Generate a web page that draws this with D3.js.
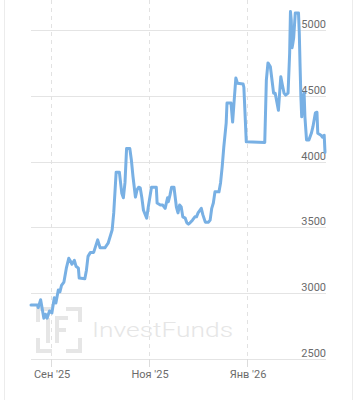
<!DOCTYPE html>
<html>
<head>
<meta charset="utf-8">
<script src="https://cdn.jsdelivr.net/npm/d3@7"></script>
<style>
  html, body { margin: 0; padding: 0; background: #fff; }
  svg { display: block; }
</style>
</head>
<body>
<svg id="chart" width="357" height="400"></svg>
<script>
// ---- data ----
const dates = [
  "2025-08-19T12:00","2025-08-23T12:00","2025-08-24T00:00","2025-08-25T12:00","2025-08-27T12:00",
  "2025-08-28T12:00","2025-08-29T12:00","2025-08-31T00:00","2025-09-01T12:00","2025-09-03T00:00",
  "2025-09-04T00:00","2025-09-05T12:00","2025-09-06T12:00","2025-09-07T12:00","2025-09-09T00:00",
  "2025-09-10T12:00","2025-09-12T00:00","2025-09-13T00:00","2025-09-14T00:00","2025-09-15T12:00",
  "2025-09-16T12:00","2025-09-18T00:00","2025-09-18T12:00","2025-09-22T00:00","2025-09-23T00:00",
  "2025-09-24T00:00","2025-09-25T12:00","2025-09-27T12:00","2025-09-30T00:00","2025-10-01T12:00",
  "2025-10-04T12:00","2025-10-06T12:00","2025-10-09T00:00","2025-10-10T00:00","2025-10-11T12:00",
  "2025-10-13T12:00","2025-10-15T00:00","2025-10-16T00:00","2025-10-17T00:00","2025-10-18T00:00",
  "2025-10-20T00:00","2025-10-21T00:00","2025-10-22T00:00","2025-10-23T12:00","2025-10-24T12:00",
  "2025-10-25T12:00","2025-10-26T12:00","2025-10-27T12:00","2025-10-28T12:00","2025-10-30T12:00",
  "2025-10-31T12:00","2025-11-02T12:00","2025-11-05T12:00","2025-11-06T00:00","2025-11-08T00:00",
  "2025-11-09T12:00","2025-11-11T00:00","2025-11-12T12:00","2025-11-13T00:00","2025-11-14T00:00",
  "2025-11-15T00:00","2025-11-16T12:00","2025-11-18T00:00","2025-11-19T00:00","2025-11-20T00:00",
  "2025-11-21T00:00","2025-11-22T00:00","2025-11-23T12:00","2025-11-24T12:00","2025-11-25T12:00",
  "2025-11-26T12:00","2025-11-28T00:00","2025-11-29T12:00","2025-11-30T12:00","2025-12-01T12:00",
  "2025-12-03T12:00","2025-12-04T12:00","2025-12-06T00:00","2025-12-08T00:00","2025-12-09T00:00",
  "2025-12-10T00:00","2025-12-11T00:00","2025-12-12T00:00","2025-12-14T12:00","2025-12-15T12:00",
  "2025-12-16T12:00","2025-12-17T12:00","2025-12-19T00:00","2025-12-19T12:00","2025-12-22T00:00",
  "2025-12-23T00:00","2025-12-24T00:00","2025-12-25T00:00","2025-12-26T00:00","2025-12-29T12:00",
  "2025-12-30T00:00","2025-12-31T12:00","2026-01-12T00:00","2026-01-13T00:00","2026-01-14T00:00",
  "2026-01-15T12:00","2026-01-16T12:00","2026-01-17T12:00","2026-01-18T12:00","2026-01-19T12:00",
  "2026-01-20T12:00","2026-01-21T12:00","2026-01-22T00:00","2026-01-23T00:00","2026-01-24T00:00",
  "2026-01-25T00:00","2026-01-26T12:00","2026-01-27T12:00","2026-01-28T00:00","2026-01-28T12:00",
  "2026-01-29T00:00","2026-01-29T12:00","2026-01-30T00:00","2026-01-31T00:00","2026-02-02T00:00",
  "2026-02-02T12:00","2026-02-03T00:00","2026-02-03T12:00","2026-02-04T00:00","2026-02-04T12:00",
  "2026-02-05T12:00","2026-02-06T00:00","2026-02-07T00:00","2026-02-08T12:00","2026-02-10T00:00",
  "2026-02-11T00:00","2026-02-12T12:00","2026-02-13T12:00","2026-02-14T00:00","2026-02-16T00:00",
  "2026-02-17T00:00","2026-02-18T00:00","2026-02-18T12:00"
];
const values = [
  2910,2910,2890,2950,2810,
  2840,2810,2865,2850,2965,
  2925,3025,3010,3060,3085,
  3190,3265,3245,3220,3250,
  3205,3190,3115,3110,3175,
  3280,3310,3310,3405,3345,
  3345,3380,3480,3610,3920,
  3920,3760,3725,3840,4100,
  4100,4010,3885,3730,3785,
  3805,3800,3725,3630,3570,
  3655,3805,3805,3685,3670,
  3670,3645,3725,3695,3745,
  3805,3805,3655,3610,3670,
  3655,3580,3570,3535,3525,
  3535,3555,3580,3580,3610,
  3645,3595,3540,3540,3555,
  3645,3685,3770,3770,3840,
  3960,4110,4295,4445,4445,
  4300,4470,4635,4595,4590,
  4565,4150,4145,4620,4750,
  4720,4620,4520,4520,4455,
  4390,4565,4645,4580,4520,
  4505,4520,4825,5140,5075,
  4865,4900,4940,5130,5130,
  4975,4720,4490,4340,4470,
  4520,4340,4165,4165,4215,
  4265,4370,4375,4215,4200,
  4185,4200,4070
];
const yTicks = [2500, 3000, 3500, 4000, 4500, 5000];
const xTickDates = ["2025-09-01", "2025-11-01", "2026-01-01"];
const xTickLabels = ["Сен '25", "Ноя '25", "Янв '26"];

// ---- chart ----
const svg = d3.select("#chart");
const parse = d3.isoParse;
const data = dates.map((d, i) => ({ date: parse(d), value: values[i] }));

const mLeft = 31, mRight = 325, mBottom = 359;
const x = d3.scaleTime()
  .domain(d3.extent(data, d => d.date))
  .range([mLeft, mRight]);
const y = d3.scaleLinear()
  .domain([2500, 5000])
  .range([mBottom, 30]);

// frame borders
svg.append("line").attr("x1", 4.5).attr("x2", 4.5).attr("y1", 0).attr("y2", 400)
  .attr("stroke", "#ececec").attr("stroke-width", 1);
svg.append("line").attr("x1", 352.5).attr("x2", 352.5).attr("y1", 0).attr("y2", 400)
  .attr("stroke", "#ececec").attr("stroke-width", 1);

// horizontal grid
const gridY = svg.append("g");
gridY.selectAll("line").data(yTicks).join("line")
  .attr("x1", mLeft).attr("x2", 326)
  .attr("y1", d => Math.round(y(d)) + 0.5).attr("y2", d => Math.round(y(d)) + 0.5)
  .attr("stroke", "#e4e4e4").attr("stroke-width", 1);

// vertical dashed grid + ticks
const xt = xTickDates.map(d => parse(d));
const gridX = svg.append("g");
gridX.selectAll("line.dash").data(xt).join("line").attr("class", "dash")
  .attr("x1", d => Math.round(x(d)) + 0.5).attr("x2", d => Math.round(x(d)) + 0.5)
  .attr("y1", 0).attr("y2", mBottom)
  .attr("stroke", "#e2e2e2").attr("stroke-dasharray", "4,4");
gridX.selectAll("line.tick").data(xt).join("line").attr("class", "tick")
  .attr("x1", d => Math.round(x(d)) + 0.5).attr("x2", d => Math.round(x(d)) + 0.5)
  .attr("y1", mBottom).attr("y2", mBottom + 8)
  .attr("stroke", "#dcdcdc");

// watermark
const wm = svg.append("g").attr("fill", "none").attr("stroke", "#e6e6e6").attr("stroke-width", 4);
wm.append("path").attr("d", "M38,322 V309 H52");
wm.append("path").attr("d", "M66,309 H80 V322");
wm.append("path").attr("d", "M38,338 V351 H52");
wm.append("path").attr("d", "M66,351 H80 V338");
wm.append("path").attr("d", "M48,318 V343");
wm.append("path").attr("d", "M68,318 H57 V343 M57,330 H66");
svg.append("text").attr("x", 92).attr("y", 337)
  .attr("font-family", "Roboto, sans-serif").attr("font-weight", 300)
  .attr("font-size", 20).attr("fill", "#e6e6e6")
  .attr("textLength", 141).attr("lengthAdjust", "spacingAndGlyphs")
  .text("InvestFunds");

// y labels
svg.append("g").selectAll("text").data(yTicks).join("text")
  .attr("x", 326).attr("y", d => y(d) - 2)
  .attr("text-anchor", "end")
  .attr("font-family", "Roboto, sans-serif").attr("font-size", 11)
  .attr("fill", "#6b6b6b")
  .text(d => d);

// x labels
svg.append("g").selectAll("text").data(xt).join("text")
  .attr("x", d => x(d) + 1).attr("y", 378)
  .attr("text-anchor", "middle")
  .attr("font-family", "Roboto, sans-serif").attr("font-size", 11)
  .attr("fill", "#6b6b6b")
  .text((d, i) => xTickLabels[i]);

// line
const line = d3.line().x(d => x(d.date)).y(d => y(d.value));
svg.append("path").datum(data)
  .attr("d", line)
  .attr("fill", "none")
  .attr("stroke", "#78b0e4")
  .attr("stroke-width", 3)
  .attr("stroke-linejoin", "round")
  .attr("stroke-linecap", "round");
</script>
</body>
</html>
